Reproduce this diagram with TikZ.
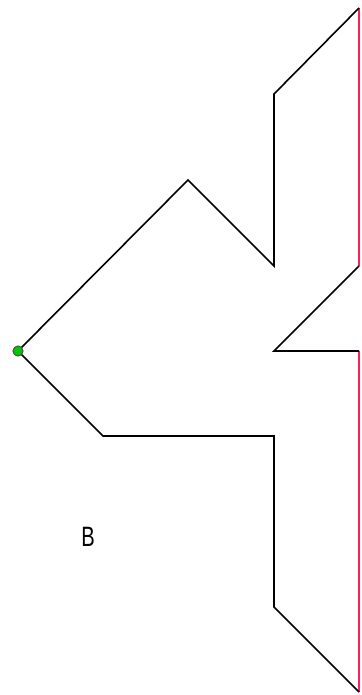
\documentclass[tikz,border=0pt]{standalone}
\usepackage{fontspec}
\setmainfont{Liberation Sans}
\definecolor{edgered}{RGB}{255,30,85}
\definecolor{dotgreen}{RGB}{0,200,0}
\tikzset{
    outline/.style = {
        draw=black,
        line width=1.6pt,
        line join=miter,
        },
    border/.style = {
        draw=edgered,
        line width=1.6pt,
        },
    anchor dot/.style = {
        circle,
        fill = dotgreen,
        draw = black!70,
        line width=0.8pt,
        inner sep=0pt,
        minimum size=10pt,
        },
    label text/.style = {
        font=\fontsize{28}{30}\selectfont,
        },
}
\begin{document}
\begin{tikzpicture}[x=1pt,y=-1pt]
            \useasboundingbox (0,0) rectangle (361,695);
            \coordinate (t) at (359,8);
            \coordinate (a) at (274,94);
            \coordinate (b) at (274,266);
            \coordinate (c) at (188,180);
            \coordinate (e) at (103,436);
            \coordinate (f) at (274,436);
            \coordinate (g) at (274,607);
            \coordinate (h) at (359,692);
            \coordinate (m) at (359,266);
            \coordinate (n) at (274,351);
            \coordinate (k) at (359,351);

            \draw[border] (t) -- (m);
            \draw[border] (k) -- (h);

            \node[anchor dot] (d) at (18,351) {};
            \draw[outline] (t) -- (a) -- (b) -- (c) -- (d.center) -- (e) -- (f) -- (g) -- (h);
            \draw[outline] (m) -- (n) -- (k);
            \node[anchor dot] at (d) {};

            \node[label text] (B) at (88,537) {\scalebox{0.72}[1]{B}};
        \end{tikzpicture}
\end{document}
